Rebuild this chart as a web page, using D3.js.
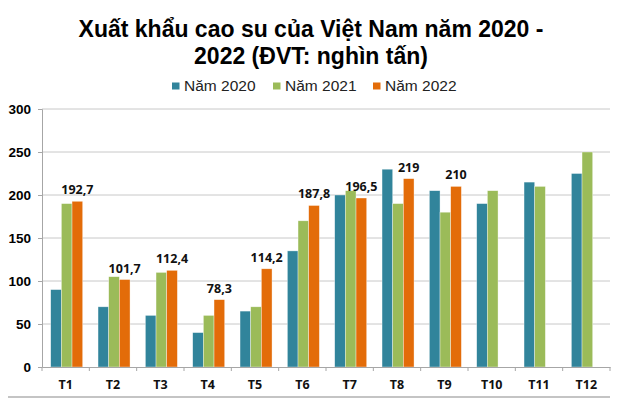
<!DOCTYPE html>
<html>
<head>
<meta charset="utf-8">
<script src="https://cdn.jsdelivr.net/npm/d3@7"></script>
<style>
body { margin: 0; background: #fff; }
svg { display: block; font-family: "Liberation Sans", Arial, sans-serif; }
</style>
</head>
<body>
<svg id="chart" width="629" height="402"></svg>
<script>
var months = ["T1", "T2", "T3", "T4", "T5", "T6", "T7", "T8", "T9", "T10", "T11", "T12"];
var seriesNames = ["Năm 2020", "Năm 2021", "Năm 2022"];
var y2020 = [90, 70, 60, 40, 65, 135, 200, 230, 205, 190, 215, 225];
var y2021 = [190, 105, 110, 60, 70, 170, 205, 190, 180, 205, 210, 250];
var y2022 = [192.7, 101.7, 112.4, 78.3, 114.2, 187.8, 196.5, 219, 210, null, null, null];
var yTicks = [0, 50, 100, 150, 200, 250, 300];

var colors = ["#31849B", "#9BBB59", "#E36C09"];
var series = [y2020, y2021, y2022];

var margin = {top: 109, right: 19, bottom: 35, left: 42},
	width = 629 - margin.left - margin.right,
	height = 402 - margin.top - margin.bottom;

var svg = d3.select("#chart");

// title
var title = svg.append("text")
	.attr("text-anchor", "middle")
	.attr("font-weight", "bold")
	.attr("font-size", "23px")
	.attr("fill", "#000");
title.append("tspan").attr("x", 311).attr("y", 37).text("Xuất khẩu cao su của Việt Nam năm 2020 -");
title.append("tspan").attr("x", 311).attr("y", 64).text("2022 (ĐVT: nghìn tấn)");

// legend
var legendX = [172, 273, 373];
var legend = svg.append("g").selectAll("g")
	.data(seriesNames)
	.enter().append("g")
	.attr("transform", function(d, i) { return "translate(" + legendX[i] + ",0)"; });
legend.append("rect")
	.attr("width", 7.5).attr("height", 7)
	.attr("y", 82.5)
	.style("fill", function(d, i) { return colors[i]; });
legend.append("text")
	.attr("x", 12).attr("y", 91)
	.attr("font-size", "15.5px")
	.attr("fill", "#222")
	.text(function(d) { return d; });

var g = svg.append("g")
	.attr("transform", "translate(" + margin.left + "," + margin.top + ")");

var xScale = d3.scaleBand().domain(months).range([0, width]);
var xSub = d3.scaleBand().domain([0, 1, 2]).range([8.7, 8.7 + 32]);
var yScale = d3.scaleLinear().domain([0, 300]).range([height, 0]);

// gridlines
g.append("g").selectAll("line")
	.data(yTicks.slice(1))
	.enter().append("line")
	.attr("x1", 0).attr("x2", width)
	.attr("y1", function(d) { return yScale(d); })
	.attr("y2", function(d) { return yScale(d); })
	.attr("stroke", "#c8c8c8").attr("stroke-width", 1);

// y axis
var yAxis = d3.axisLeft(yScale).tickValues(yTicks).tickSize(4).tickPadding(7);
g.append("g").attr("class", "y axis").call(yAxis)
	.call(function(s) {
		s.select(".domain").attr("stroke", "#a6a6a6");
		s.selectAll(".tick line").attr("stroke", "#a6a6a6");
		s.selectAll(".tick text")
			.attr("font-family", "Liberation Sans, Arial, sans-serif")
			.attr("font-weight", "bold").attr("font-size", "13.5px").attr("fill", "#000");
	});

// bars
var groups = g.selectAll(".month")
	.data(months)
	.enter().append("g")
	.attr("class", "month")
	.attr("transform", function(d) { return "translate(" + xScale(d) + ",0)"; });

groups.selectAll("rect")
	.data(function(d, i) {
		return series.map(function(s, k) { return {k: k, v: s[i]}; })
			.filter(function(e) { return e.v != null; });
	})
	.enter().append("rect")
	.attr("x", function(d) { return xSub(d.k); })
	.attr("width", xSub.bandwidth())
	.attr("y", function(d) { return yScale(d.v); })
	.attr("height", function(d) { return height - yScale(d.v); })
	.attr("fill", function(d) { return colors[d.k]; })
	.attr("stroke", "rgba(255,255,255,0.6)")
	.attr("stroke-width", 0.6);

// labels on 2022 bars
groups.filter(function(d, i) { return y2022[i] != null; })
	.append("text")
	.attr("text-anchor", "middle")
	.attr("x", function(d) { return xSub(2) + xSub.bandwidth() / 2; })
	.attr("y", function(d, i) { return yScale(y2022[months.indexOf(d)]) - 7; })
	.attr("font-family", "Open Sans, sans-serif")
	.attr("font-weight", "bold")
	.attr("font-size", "12.5px")
	.attr("fill", "#111")
	.text(function(d) { return String(y2022[months.indexOf(d)]).replace(".", ","); });

// x axis
var xAxis = d3.axisBottom(xScale).tickSize(0).tickPadding(13);
var xg = g.append("g").attr("class", "x axis")
	.attr("transform", "translate(0," + height + ")")
	.call(xAxis);
xg.select(".domain").attr("stroke", "#a6a6a6");
xg.selectAll(".tick text")
	.attr("font-family", "Open Sans, sans-serif")
	.attr("font-weight", "bold").attr("font-size", "12.5px").attr("fill", "#111");
xg.selectAll(".sep")
	.data(months.concat(["end"]))
	.enter().append("line")
	.attr("x1", function(d, i) { return i * xScale.step(); })
	.attr("x2", function(d, i) { return i * xScale.step(); })
	.attr("y1", 0).attr("y2", 4)
	.attr("stroke", "#a6a6a6");

// bottom strip line
svg.append("line")
	.attr("x1", 8).attr("x2", 610)
	.attr("y1", 397).attr("y2", 397)
	.attr("stroke", "#b0b0b0").attr("stroke-width", 1.5);
</script>
</body>
</html>
